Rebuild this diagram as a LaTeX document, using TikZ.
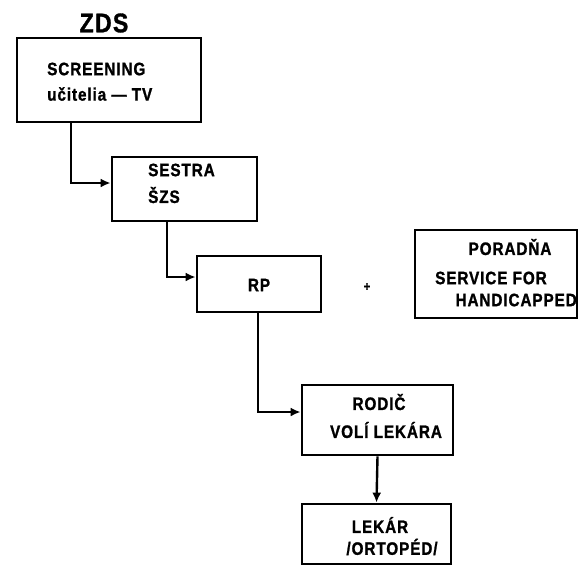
\documentclass[tikz,border=0pt]{standalone}
\usepackage{fontspec}
\setmainfont{Liberation Sans}[FakeStretch=0.85,LetterSpace=5,FakeBold=1.2]
\usetikzlibrary{arrows.meta}
\begin{document}
\begin{tikzpicture}[x=1pt,y=-1pt,
  box/.style={draw=black,line width=2.8pt,rectangle,inner sep=0pt},
  txt/.style={inner sep=0pt,font=\fontsize{18}{20}\selectfont\bfseries},
  arr/.style={line width=2.4pt,-{Latex[length=10pt,width=9pt]}}]
\useasboundingbox[fill=white] (0,0) rectangle (580,566);
% boxes
\node[box,minimum width=184pt,minimum height=84pt] (b1) at (109,80) {};
\node[box,minimum width=145pt,minimum height=64pt] (b2) at (184.5,189) {};
\node[box,minimum width=124pt,minimum height=56pt] (b3) at (259,284) {};
\node[box,minimum width=162pt,minimum height=88pt] (b4) at (496,274) {};
\node[box,minimum width=151pt,minimum height=70pt] (b5) at (377.5,420) {};
\node[box,minimum width=149pt,minimum height=60pt] (b6) at (376.5,534) {};
% texts
\node[inner sep=0pt,font=\fontsize{27}{28}\selectfont\bfseries] (t0) at (104,23) {ZDS};
\node[txt,anchor=west] (t1a) at (47,69) {SCREENING};
\node[txt,anchor=west] (t1b) at (47,94) {učitelia — TV};
\node[txt,anchor=west] (t2a) at (148,170) {SESTRA};
\node[txt,anchor=west] (t2b) at (148,195) {ŠZS};
\node[txt] (t3) at (259,285) {RP};
\node[inner sep=0pt,font=\fontsize{13}{14}\selectfont\bfseries] (plus) at (367,287) {+};
\node[txt] (t4a) at (510,247) {PORADŇA};
\node[txt,anchor=west] (t4b) at (435,278) {SERVICE FOR};
\node[txt,anchor=east] (t4c) at (577,300) {HANDICAPPED};
\node[txt] (t5a) at (379,402) {RODIČ};
\node[txt] (t5b) at (386,430) {VOLÍ LEKÁRA};
\node[txt] (t6a) at (380,525) {LEKÁR};
\node[txt] (t6b) at (392,547) {/ORTOPÉD/};
% connectors
\draw[arr] ([xshift=-38pt]b1.south) |- ([yshift=6pt]b2.west);
\draw[arr] ([xshift=-17.5pt]b2.south) |- ([yshift=7pt]b3.west);
\draw[arr] ([xshift=-1pt]b3.south) |- ([yshift=8pt]b5.west);
\draw[arr] (b5.south) -- (b6.north);
\end{tikzpicture}
\end{document}
